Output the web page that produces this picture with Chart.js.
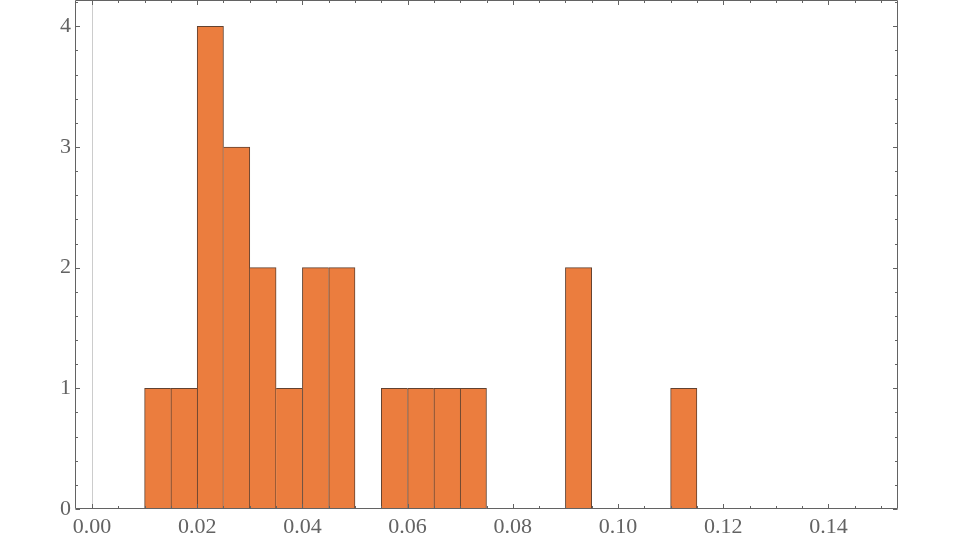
<!DOCTYPE html>
<html>
<head>
<meta charset="utf-8">
<script src="https://cdn.jsdelivr.net/npm/chart.js@4"></script>
<style>
html,body{margin:0;padding:0;background:#fff;}
#wrap{width:960px;height:540px;position:relative;}
</style>
</head>
<body>
<div id="wrap"><canvas id="c" width="960" height="540"></canvas></div>
<script>
// Histogram data: bin left edges and counts (bin width 0.005)
const binEdges = [0.010, 0.015, 0.020, 0.025, 0.030, 0.035, 0.040, 0.045, 0.050, 0.055, 0.060, 0.065, 0.070, 0.075, 0.080, 0.085, 0.090, 0.095, 0.100, 0.105, 0.110];
const binCounts = [1, 1, 4, 3, 2, 1, 2, 2, 0, 1, 1, 1, 1, 0, 0, 0, 2, 0, 0, 0, 1];
const binWidth = 0.005;
const xTickValues = [0.00, 0.02, 0.04, 0.06, 0.08, 0.10, 0.12, 0.14];
const yTickValues = [0, 1, 2, 3, 4];

const points = binEdges.map((e, i) => ({x: e + binWidth / 2, y: binCounts[i]}));

const FRAME = '#636363';

// shared edges are drawn once, by the taller neighbour
function edgeWidths(ctx) {
  const i = ctx.dataIndex;
  const h = binCounts[i];
  if (!h) return 0;
  const prev = i > 0 ? binCounts[i - 1] : 0;
  const next = i < binCounts.length - 1 ? binCounts[i + 1] : 0;
  return {left: prev <= h ? 1 : 0, top: 1, right: next < h ? 1 : 0, bottom: 0};
}

const framePlugin = {
  id: 'frame',
  beforeDatasetsDraw(chart) {
    const {ctx, chartArea: a, scales: {x}} = chart;
    const px = Math.round(x.getPixelForValue(0)) + 0.5;
    ctx.save();
    ctx.strokeStyle = '#cccccc';
    ctx.lineWidth = 1;
    ctx.beginPath();
    ctx.moveTo(px, a.top);
    ctx.lineTo(px, a.bottom);
    ctx.stroke();
    ctx.restore();
  },
  afterDatasetsDraw(chart) {
    const {ctx, chartArea: a, scales: {x, y}} = chart;
    const L = Math.round(a.left) - 0.5, R = Math.round(a.right) - 0.5;
    const T = Math.round(a.top) - 0.5, B = Math.round(a.bottom) - 0.5;
    ctx.save();
    ctx.strokeStyle = FRAME;
    ctx.lineWidth = 1;
    ctx.beginPath();
    ctx.rect(L, T, R - L, B - T);
    ctx.stroke();
    ctx.beginPath();
    for (let k = 0; k <= 30; k++) {
      const v = k * 0.005;
      const p = Math.round(x.getPixelForValue(v)) + 0.5;
      if (p < a.left || p > a.right) continue;
      const len = (k % 4 === 0) ? 4.5 : 2.5;
      ctx.moveTo(p, B); ctx.lineTo(p, B - len);
      ctx.moveTo(p, T); ctx.lineTo(p, T + len);
    }
    for (let k = 0; k <= 21; k++) {
      const v = k * 0.2;
      const p = Math.round(y.getPixelForValue(v)) + 0.5;
      if (p < a.top || p > a.bottom + 1) continue;
      const len = (k % 5 === 0) ? 4.5 : 2.5;
      ctx.moveTo(L, p); ctx.lineTo(L + len, p);
      ctx.moveTo(R, p); ctx.lineTo(R - len, p);
    }
    ctx.stroke();
    ctx.restore();
  }
};

new Chart(document.getElementById('c'), {
  type: 'bar',
  data: {
    datasets: [{
      data: points,
      backgroundColor: 'rgb(235,125,62)',
      borderColor: 'rgb(98,66,48)',
      borderWidth: edgeWidths,
      borderSkipped: false,
      barPercentage: 1,
      categoryPercentage: 1
    }]
  },
  options: {
    responsive: false,
    animation: false,
    devicePixelRatio: 1,
    layout: {padding: {top: 1, right: 62, left: 0, bottom: 0}},
    plugins: {legend: {display: false}, tooltip: {enabled: false}},
    scales: {
      x: {
        type: 'linear',
        offset: false,
        min: -0.00304,
        max: 0.15323,
        grid: {display: false, drawTicks: false, offset: false},
        border: {display: false},
        afterBuildTicks(scale) { scale.ticks = xTickValues.map(v => ({value: v})); },
        afterFit(scale) { scale.height = 31; scale.paddingLeft = 0; scale.paddingRight = 0; },
        ticks: {
          autoSkip: false,
          maxRotation: 0,
          padding: 5,
          color: '#636363',
          font: {family: '"Liberation Serif", "Times New Roman", serif', size: 22},
          callback: (v) => Number(v).toFixed(2)
        }
      },
      y: {
        min: 0,
        max: 4.21,
        grid: {display: false, drawTicks: false},
        border: {display: false},
        afterBuildTicks(scale) { scale.ticks = yTickValues.map(v => ({value: v})); },
        afterFit(scale) { scale.width = 76; scale.paddingTop = 0; scale.paddingBottom = 0; },
        ticks: {
          autoSkip: false,
          padding: 5,
          color: '#636363',
          font: {family: '"Liberation Serif", "Times New Roman", serif', size: 22},
          callback: (v) => String(v)
        }
      }
    }
  },
  plugins: [framePlugin]
});
</script>
</body>
</html>
